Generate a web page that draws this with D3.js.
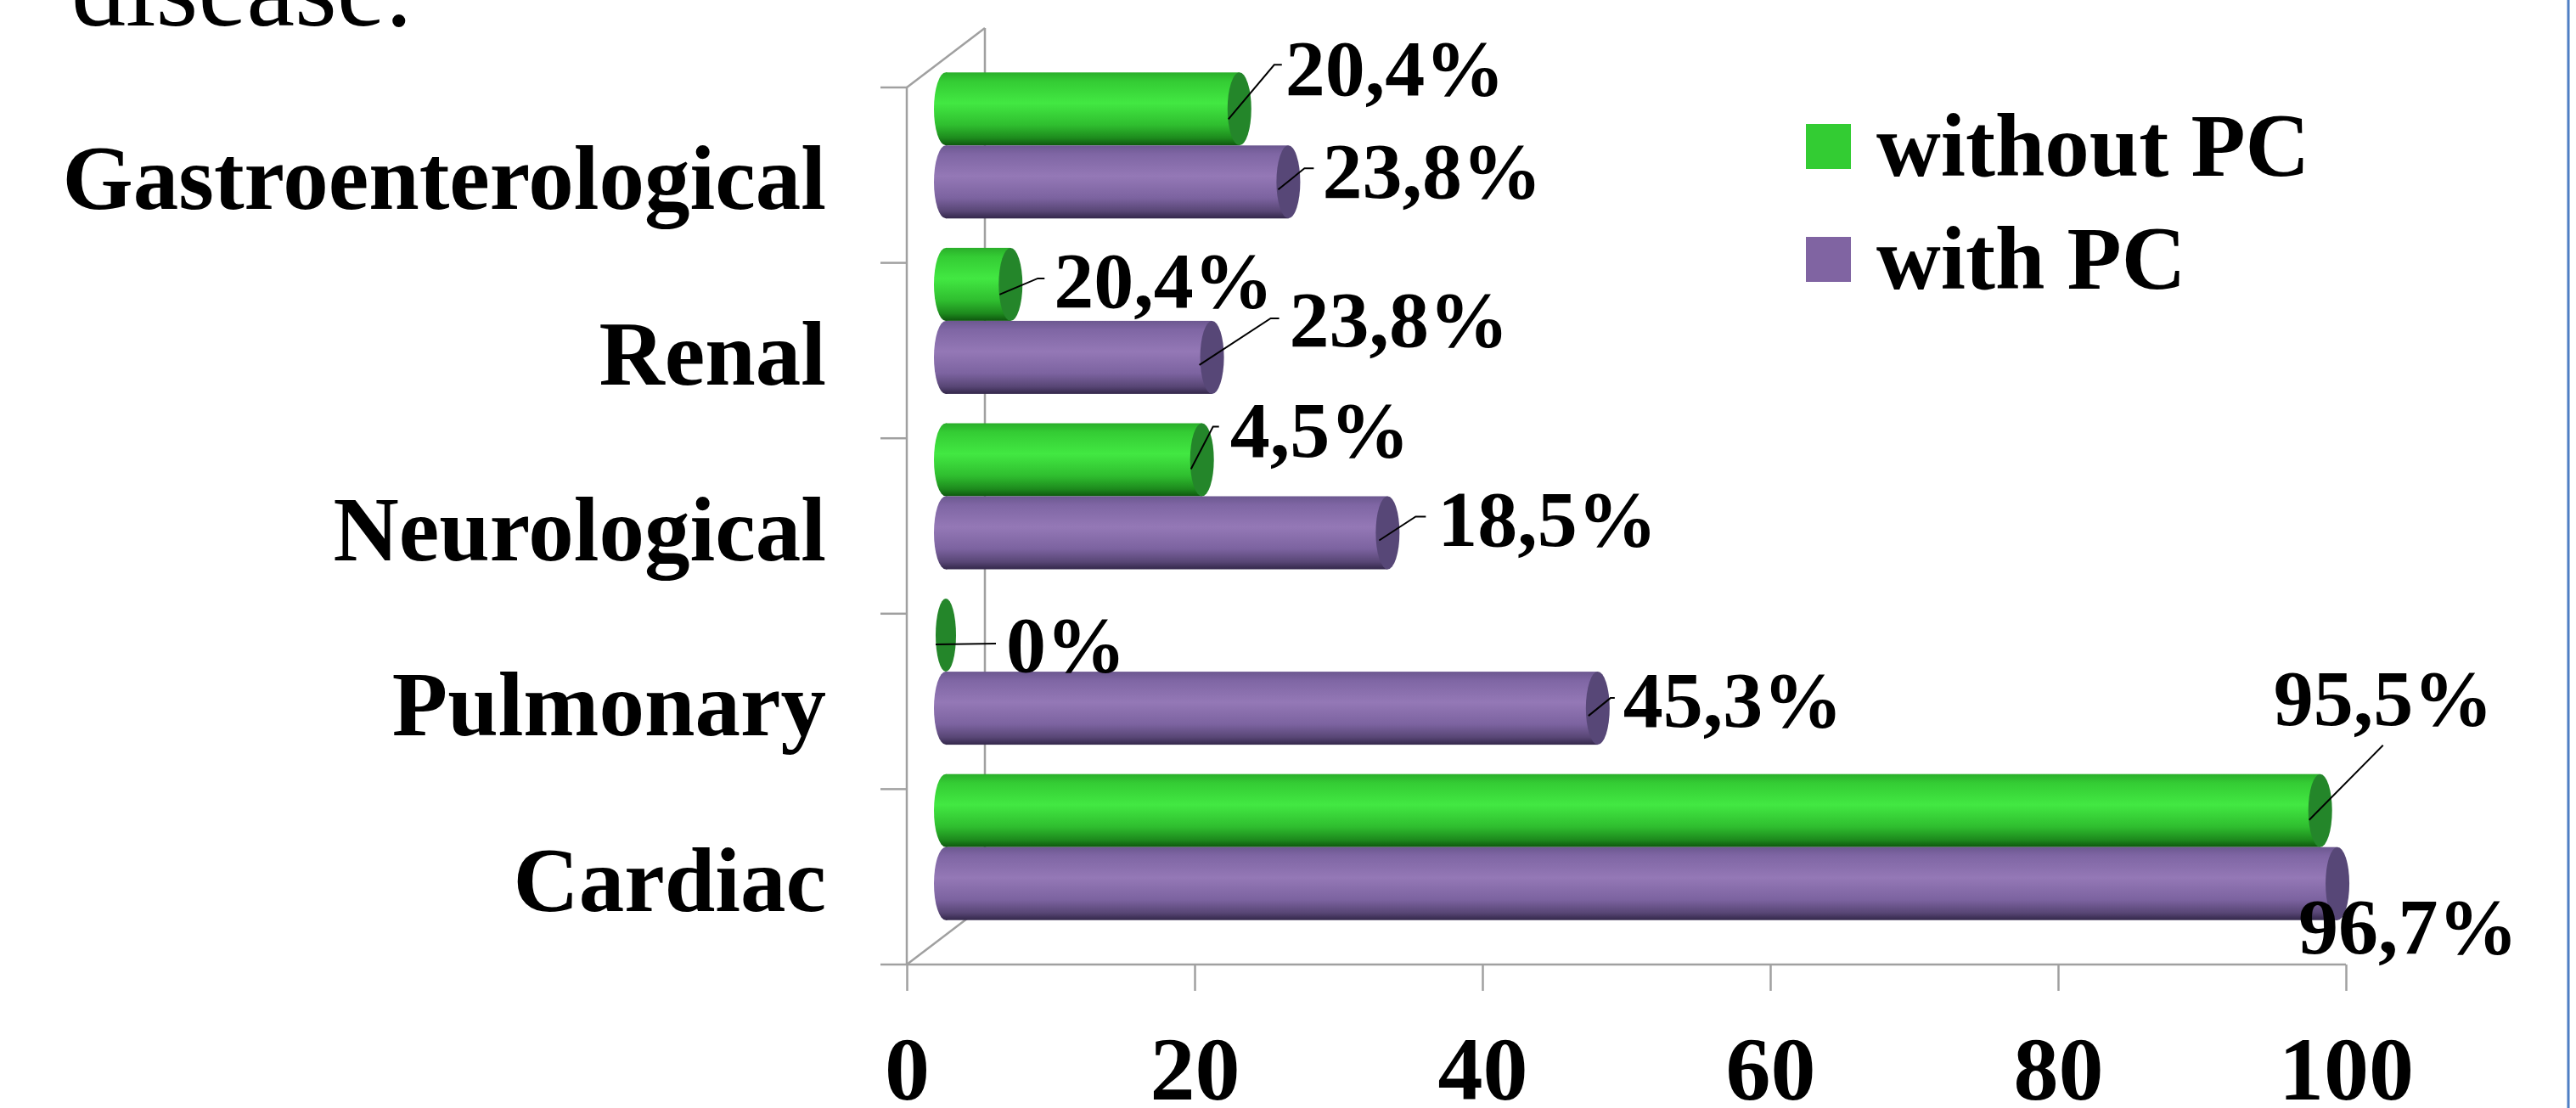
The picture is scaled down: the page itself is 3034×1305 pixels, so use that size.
<!DOCTYPE html>
<meta charset="utf-8">
<style>
    body { margin: 0; background: #fff; }
    text { font-family: "Liberation Serif", "Times New Roman", serif; font-weight: bold; fill: #000; }
    .axis line, .axis path, .frame { stroke: #a0a0a0; stroke-width: 2.5px; fill: none; }
</style>
<svg width="3034" height="1305"></svg>
<script src="https://d3js.org/d3.v7.min.js"></script>
<script>

    var categories = ["Gastroenterological", "Renal", "Neurological", "Pulmonary", "Cardiac"];
    var seriesNames = ["without PC", "with PC"];
    // bar lengths as drawn
    var withoutPC = [20.4, 4.5, 17.8, 0, 95.5];
    var withPC = [23.8, 18.5, 30.7, 45.3, 96.7];
    // data label texts as printed on the chart
    var withoutPCLabels = ["20,4%", "20,4%", "4,5%", "0%", "95,5%"];
    var withPCLabels = ["23,8%", "23,8%", "18,5%", "45,3%", "96,7%"];
    var xTicks = [0, 20, 40, 60, 80, 100];

    var svg = d3.select("svg");

    var x0 = 1068, x1 = 2763, floorY = 1136, topY = 103;
    var depthX = 92, depthY = -70;
    var barH = 86, capRx = 14;

    var x = d3.scaleLinear().domain([0, 100]).range([x0, x1]);
    var y = d3.scaleBand().domain(categories).range([topY, floorY]);
    var sub = d3.scaleBand().domain(seriesNames).range([-barH, barH]);

    // gradients for the cylinders
    var defs = svg.append("defs");
    function grad(id, stops) {
        var g = defs.append("linearGradient").attr("id", id)
            .attr("x1", 0).attr("y1", 0).attr("x2", 0).attr("y2", 1);
        stops.forEach(function (s) {
            g.append("stop").attr("offset", s[0]).attr("stop-color", s[1]);
        });
    }
    grad("gGreen", [[0, "#2aae2a"], [0.12, "#34cc34"], [0.42, "#42e842"], [0.72, "#2fbe2f"], [0.9, "#1d8a1d"], [1, "#0e560e"]]);
    grad("gPurple", [[0, "#6c5890"], [0.12, "#7f66a4"], [0.42, "#9478b6"], [0.72, "#7c63a0"], [0.9, "#584675"], [1, "#33274a"]]);
    var capColor = { "without PC": "#24862a", "with PC": "#574777" };
    var fillId = { "without PC": "url(#gGreen)", "with PC": "url(#gPurple)" };

    // slide text cut at the top
    svg.append("text").attr("x", 84).attr("y", 30)
        .style("font-weight", "normal").style("font-size", "128px")
        .text("disease.");

    // frame: left wall, back edge, floor
    var frame = svg.append("g");
    frame.append("line").attr("class", "frame")
        .attr("x1", x0).attr("y1", topY).attr("x2", x0).attr("y2", floorY);
    frame.append("line").attr("class", "frame")
        .attr("x1", x0 + depthX).attr("y1", topY + depthY).attr("x2", x0 + depthX).attr("y2", floorY + depthY);
    frame.append("line").attr("class", "frame")
        .attr("x1", x0).attr("y1", topY).attr("x2", x0 + depthX).attr("y2", topY + depthY);
    frame.append("line").attr("class", "frame")
        .attr("x1", x0).attr("y1", floorY).attr("x2", x0 + depthX).attr("y2", floorY + depthY);

    var bounds = categories.map(function (c) { return y(c); }).concat([floorY]);
    frame.selectAll(".ytick").data(bounds).enter().append("line").attr("class", "frame")
        .attr("x1", x0 - 31).attr("x2", x0)
        .attr("y1", function (d) { return d; }).attr("y2", function (d) { return d; });

    // x axis along the front floor edge
    var xAxis = svg.append("g").attr("class", "axis")
        .attr("transform", "translate(0," + floorY + ")")
        .call(d3.axisBottom(x).tickValues(xTicks).tickSize(31).tickFormat(d3.format("d")));
    xAxis.select(".domain").attr("d", "M" + x0 + ",0H" + x1);
    xAxis.selectAll("text").attr("y", 159).attr("dy", 0)
        .style("font-size", "106px").style("font-family", "Liberation Serif, serif").style("font-weight", "bold").attr("fill", "#000");

    // category labels
    svg.selectAll(".cat").data(categories).enter().append("text")
        .attr("text-anchor", "end").style("font-size", "107px")
        .attr("x", 973)
        .attr("y", function (d) { return y(d) + y.bandwidth() / 2 + 40; })
        .text(function (d) { return d; });

    // bars
    var rows = [];
    categories.forEach(function (c, i) {
        rows.push({ cat: c, s: "without PC", v: withoutPC[i], label: withoutPCLabels[i] });
        rows.push({ cat: c, s: "with PC", v: withPC[i], label: withPCLabels[i] });
    });
    rows.forEach(function (d) {
        d.cy = y(d.cat) + y.bandwidth() / 2 + depthY / 2 + sub(d.s) + sub.bandwidth() / 2;
        d.xs = x(0) + depthX / 2;
        d.xe = x(d.v) + depthX / 2;
    });

    var bar = svg.append("g").selectAll("g").data(rows).enter().append("g");
    bar.filter(function (d) { return d.v > 0; }).append("ellipse")
        .attr("cx", function (d) { return d.xs; }).attr("cy", function (d) { return d.cy; })
        .attr("rx", capRx).attr("ry", barH / 2)
        .attr("fill", function (d) { return fillId[d.s]; });
    bar.filter(function (d) { return d.v > 0; }).append("rect")
        .attr("x", function (d) { return d.xs; }).attr("y", function (d) { return d.cy - barH / 2; })
        .attr("width", function (d) { return d.xe - d.xs; }).attr("height", barH)
        .attr("fill", function (d) { return fillId[d.s]; });
    bar.append("ellipse")
        .attr("cx", function (d) { return d.xe; }).attr("cy", function (d) { return d.cy; })
        .attr("rx", function (d) { return d.v > 0 ? capRx : 12; }).attr("ry", barH / 2)
        .attr("fill", function (d) { return capColor[d.s]; });

    // data labels with leader lines (offsets from the bar end, in px)
    var labelLayout = [
        { lx: 54, ly: -16, pts: [[-13, 12], [41, -52], [50, -52]] },
        { lx: 40, ly: 19, pts: [[-12, 9], [19, -16], [30, -16]] },
        { lx: 51, ly: 27, pts: [[-13, 12], [32, -7], [40, -7]] },
        { lx: 91, ly: -13, pts: [[-15, 9], [69, -46], [79, -46]] },
        { lx: 33, ly: -4, pts: [[-13, 11], [13, -39], [20, -39]] },
        { lx: 59, ly: 15, pts: [[-10, 9], [33, -19], [45, -19]] },
        { lx: 71, ly: 43, pts: [[-12, 11], [59, 10]] },
        { lx: 30, ly: 22, pts: [[-11, 9], [15, -12], [20, -12]] },
        { lx: -55, ly: -101, pts: [[-13, 11], [74, -77]] },
        { lx: -46, ly: 82, pts: [] }
    ];

    var lab = svg.append("g");
    rows.forEach(function (d, i) {
        var L = labelLayout[i];
        if (L.pts.length) {
            lab.append("path")
                .attr("d", d3.line()(L.pts.map(function (p) { return [d.xe + p[0], d.cy + p[1]]; })))
                .attr("fill", "none").attr("stroke", "#000").attr("stroke-width", 2);
        }
        lab.append("text").style("font-size", "94px")
            .attr("x", d.xe + L.lx).attr("y", d.cy + L.ly)
            .text(d.label);
    });

    // legend
    var legendColor = { "without PC": "#33cc33", "with PC": "#8064a2" };
    var leg = svg.append("g").selectAll("g").data(seriesNames).enter().append("g")
        .attr("transform", function (d, i) { return "translate(2127," + (146 + i * 133) + ")"; });
    leg.append("rect").attr("width", 53).attr("height", 53)
        .attr("fill", function (d) { return legendColor[d]; });
    leg.append("text").attr("x", 83).attr("y", 61).style("font-size", "105px")
        .text(function (d) { return d; });

    // slide border on the right
    svg.append("line").attr("x1", 3025).attr("x2", 3025).attr("y1", 0).attr("y2", 1305)
        .attr("stroke", "#4f7fc4").attr("stroke-width", 3);

</script>
